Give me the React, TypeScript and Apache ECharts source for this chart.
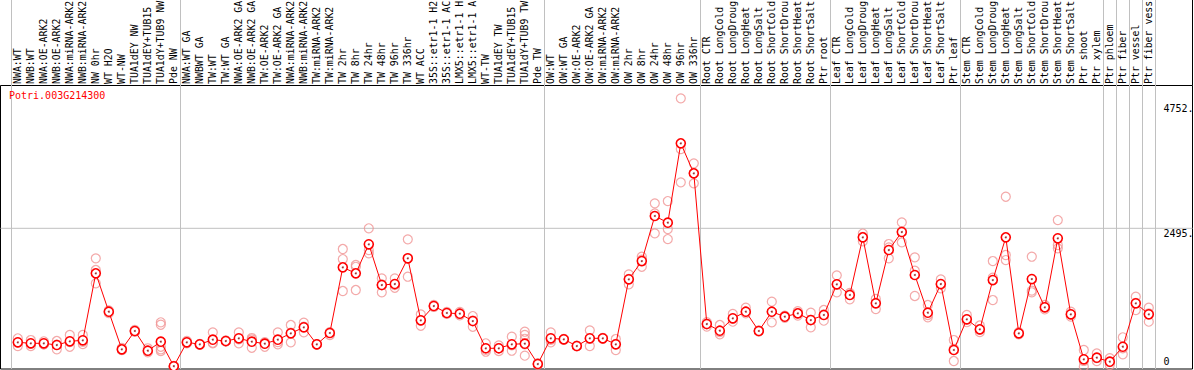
import React, { useEffect, useRef } from "react";
import * as echarts from "echarts";

const GENE = "Potri.003G214300";

const categories = [
  "NWA:WT", "NWB:WT", "NWA:OE-ARK2", "NWB:OE-ARK2", "NWA:miRNA-ARK2", "NWB:miRNA-ARK2",
  "NW 0hr", "WT H2O", "WT-NW", "TUA1dEY NW", "TUA1dEY+TUB15", "TUA1dY+TUB9 NW", "Pde NW",
  "NWA:WT GA", "NWBWT GA", "TW:WT", "TW:WT GA", "NWA:OE-ARK2 GA", "NWB:OE-ARK2 GA",
  "TW:OE-ARK2", "TW:OE-ARK2 GA", "NWA:miRNA-ARK2", "NWB:miRNA-ARK2", "TW:miRNA-ARK2",
  "TW:miRNA-ARK2", "TW 2hr", "TW 8hr", "TW 24hr", "TW 48hr", "TW 96hr", "TW 336hr",
  "WT ACC", "35S::etr1-1 H2O", "35S::etr1-1 ACC", "LMX5::etr1-1 H2O", "LMX5::etr1-1 ACC",
  "WT-TW", "TUA1dEY TW", "TUA1dEY+TUB15", "TUA1dY+TUB9 TW", "Pde TW",
  "OW:WT", "OW:WT GA", "OW:OE-ARK2", "OW:OE-ARK2 GA", "OW:miRNA-ARK2", "OW:miRNA-ARK2",
  "OW 2hr", "OW 8hr", "OW 24hr", "OW 48hr", "OW 96hr", "OW 336hr",
  "Root CTR", "Root LongCold", "Root LongDrought", "Root LongHeat", "Root LongSalt",
  "Root ShortCold", "Root ShortDrought", "Root ShortHeat", "Root ShortSalt", "Ptr root",
  "Leaf CTR", "Leaf LongCold", "Leaf LongDrought", "Leaf LongHeat", "Leaf LongSalt",
  "Leaf ShortCold", "Leaf ShortDrought", "Leaf ShortHeat", "Leaf ShortSalt", "Ptr leaf",
  "Stem CTR", "Stem LongCold", "Stem LongDrought", "Stem LongHeat", "Stem LongSalt",
  "Stem ShortCold", "Stem ShortDrought", "Stem ShortHeat", "Stem ShortSalt", "Ptr shoot",
  "Ptr xylem", "Ptr phloem", "Ptr fiber", "Ptr vessel", "Ptr fiber vessel",
];

const means = [
  437, 419, 419, 388, 455, 473, 1682, 989, 310, 641, 285, 448, 5,
  437, 401, 484, 460, 509, 448, 412, 484, 599, 708, 401, 605, 1790, 1682, 2206, 1471, 1489, 1953,
  834, 1092, 966, 953, 821, 329, 329, 401, 412, 45,
  509, 491, 370, 509, 509, 401, 1574, 1904, 2717, 2596, 4029, 3487,
  767, 646, 870, 989, 641, 989, 899, 960, 839, 930,
  1484, 1291, 2332, 1141, 2103, 2428, 1652, 971, 1489, 298,
  852, 671, 1561, 2332, 599, 1579, 1069, 2314, 942, 130, 159,
  87, 357, 1141, 942,
];

const replicates = [
  [509, 370, 430], [478, 370, 410], [455, 401, 400], [460, 310, 395], [569, 357, 440], [569, 406, 445],
  [1953, 1742, 1502], [1014, 966, 990], [334, 298, 300], [660, 625, 640], [329, 256, 280],
  [798, 754, 357, 310, 280], [10, 5, 0],
  [460, 420, 430], [390, 410, 400], [617, 419, 430], [470, 450, 460], [617, 419, 490], [514, 339, 490],
  [440, 357, 420], [617, 401, 440], [749, 437, 610], [791, 617, 720], [395, 405, 400], [569, 620, 610],
  [2121, 1940, 1363], [1832, 1381, 1800], [2495, 2043, 2100], [1592, 1339, 1480], [1592, 1422, 1470],
  [2296, 1621, 1950], [942, 736, 830], [1110, 1075, 1090], [985, 950, 960], [985, 925, 950],
  [911, 718, 830], [419, 267, 300], [380, 280, 330], [538, 285, 380], [628, 570, 500, 195, 400], [60, 30, 45],
  [617, 437, 480], [500, 480, 495], [375, 365, 370], [653, 370, 500], [515, 500, 510], [496, 298, 410],
  [1664, 1484, 1580], [1982, 1801, 1930], [2946, 2765, 2404], [2987, 2482, 2301], [4841, 3926, 3325],
  [3668, 3307, 3490],
  [800, 720, 770], [749, 581, 620], [948, 809, 860], [1061, 960, 990], [650, 630, 640],
  [1170, 798, 990], [920, 880, 900], [1000, 920, 960], [971, 708, 840], [1020, 827, 940],
  [1646, 1339, 1480], [1330, 1213, 1300], [2400, 2260, 2340], [1220, 1038, 1150], [2211, 1953, 2150],
  [2603, 2242, 2440], [1971, 1729, 1273], [1110, 888, 930], [1574, 1412, 1480], [478, 99, 320],
  [930, 800, 850], [740, 620, 660], [1904, 1603, 1200], [3065, 2013, 1922], [620, 580, 600],
  [1982, 1370, 1340], [1110, 1030, 1070], [2644, 2193, 2133], [989, 900, 940], [298, 0, 100],
  [238, 99, 150], [150, 27, 80], [527, 220, 330], [1260, 1020, 1150], [1061, 809, 960],
];

const yTickValues = [0, 2495, 4752];
const yTickTexts = ["0", "2495.", "4752."];
const refLineValue = 2495;
const groupStarts = [0, 13, 41, 53, 63, 73, 84, 85, 86, 87];
const LABEL_CHARS = 14;

const FONT = "'DejaVu Sans Mono', 'Liberation Mono', monospace";
const Y_MIN = -45;
const Y_MAX = 5073;
const G0_TOP = 85.5;
const G_BOTTOM = 369;
const Y_MAX_FULL = Y_MIN + ((Y_MAX - Y_MIN) * G_BOTTOM) / (G_BOTTOM - G0_TOP);

const yLabelFormatter = (v: number) => {
  const i = yTickValues.indexOf(v);
  return i >= 0 ? yTickTexts[i] : "";
};

export default function App() {
  const ref = useRef<HTMLDivElement>(null);
  useEffect(() => {
    document.body.style.margin = "0";
    const chart = echarts.init(ref.current!, null, { renderer: "svg" });
    const repData: number[][] = [];
    replicates.forEach((arr, i) => arr.forEach((v) => repData.push([i, v])));
    const meanData = means.map((v, i) => [i, v]);
    const labelBase = {
      inside: true,
      margin: 29,
      align: "left",
      fontFamily: FONT,
      fontSize: 10,
      color: "#000",
      formatter: yLabelFormatter,
    };
    chart.setOption({
      animation: false,
      backgroundColor: "#fff",
      title: {
        text: GENE,
        left: 9,
        top: 90,
        padding: 0,
        textStyle: { color: "#ff0000", fontSize: 10, fontFamily: FONT, fontWeight: "normal" },
      },
      grid: [
        {
          left: 0.5, top: G0_TOP, width: 1192, height: G_BOTTOM - G0_TOP,
          show: true, borderColor: "#000", borderWidth: 1, backgroundColor: "transparent",
          outerBoundsMode: "none",
        },
        { left: 11.3, top: 0, width: 1144, height: G_BOTTOM, outerBoundsMode: "none" },
      ],
      xAxis: [
        { type: "value", gridIndex: 0, min: 0, max: 1, show: false },
        {
          type: "category",
          gridIndex: 1,
          position: "top",
          data: categories,
          boundaryGap: true,
          axisLine: { show: false },
          axisTick: { show: false },
          axisLabel: {
            inside: true,
            rotate: 90,
            margin: 84,
            align: "left",
            verticalAlign: "middle",
            interval: 0,
            fontFamily: FONT,
            fontSize: 9.9,
            color: "#000",
            formatter: (v: string) => v.slice(0, LABEL_CHARS),
          },
          splitLine: {
            show: true,
            interval: (i: number) => groupStarts.indexOf(i) >= 0,
            lineStyle: { color: "#c0c0c0", width: 1 },
          },
        },
      ],
      yAxis: [
        {
          type: "value", gridIndex: 0, min: Y_MIN, max: Y_MAX, position: "right",
          axisLine: { show: false }, axisTick: { show: false }, splitLine: { show: false },
          axisLabel: { ...labelBase, verticalAlign: "top", customValues: yTickValues.slice(1) },
        },
        {
          type: "value", gridIndex: 0, min: Y_MIN, max: Y_MAX, position: "right",
          axisLine: { show: false }, axisTick: { show: false }, splitLine: { show: false },
          axisLabel: { ...labelBase, verticalAlign: "bottom", customValues: yTickValues.slice(0, 1) },
        },
        { type: "value", gridIndex: 1, min: Y_MIN, max: Y_MAX_FULL, show: false },
      ],
      series: [
        {
          type: "line",
          xAxisIndex: 0,
          yAxisIndex: 0,
          data: [[0, refLineValue], [1, refLineValue]],
          symbol: "none",
          silent: true,
          lineStyle: { color: "#c0c0c0", width: 1 },
          z: 1,
        },
        {
          type: "scatter",
          xAxisIndex: 1,
          yAxisIndex: 2,
          data: repData,
          symbol: "circle",
          symbolSize: 9,
          silent: true,
          itemStyle: { color: "transparent", borderColor: "#f09494", borderWidth: 1.2 },
          z: 3,
        },
        {
          type: "line",
          xAxisIndex: 1,
          yAxisIndex: 2,
          data: means,
          symbol: "circle",
          symbolSize: 9,
          showSymbol: true,
          silent: true,
          lineStyle: { color: "#ff0000", width: 1 },
          itemStyle: { color: "#ffffff", borderColor: "#ff0000", borderWidth: 1.6 },
          z: 5,
        },
        {
          type: "scatter",
          xAxisIndex: 1,
          yAxisIndex: 2,
          data: meanData,
          symbol: "circle",
          symbolSize: 2,
          silent: true,
          itemStyle: { color: "#880000" },
          z: 6,
        },
      ],
      graphic: [
        {
          type: "line",
          shape: { x1: 1192.5, y1: 0, x2: 1192.5, y2: G0_TOP },
          style: { stroke: "#000", lineWidth: 1 },
          silent: true,
        },
      ],
    });
    return () => chart.dispose();
  }, []);
  return (
    <div
      ref={ref}
      style={{ position: "fixed", left: 0, top: 0, width: 1194, height: 370 }}
    />
  );
}
